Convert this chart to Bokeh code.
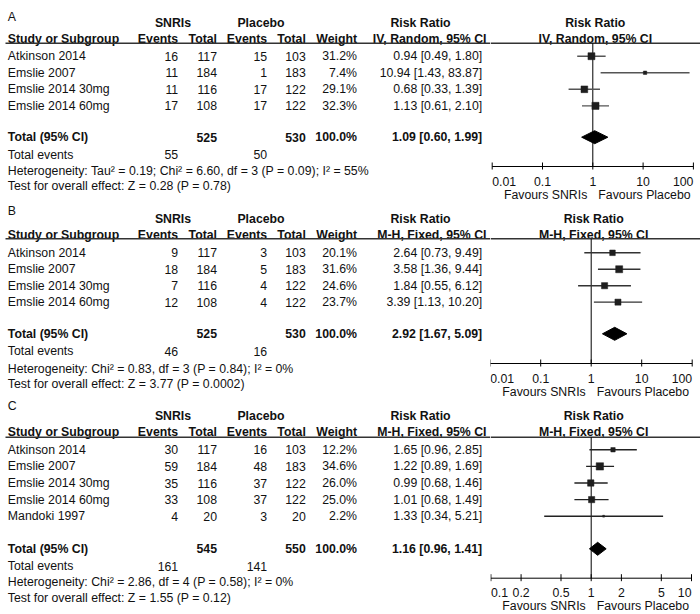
from bokeh.plotting import figure
from bokeh.layouts import row, column
from bokeh.models import Range1d
from bokeh.core.properties import value
from bokeh.embed import file_html
from bokeh.resources import INLINE

FONT = "Liberation Sans"
FSIZE = "12.3px"

# ---------------- data ----------------
studies_ab = ["Atkinson 2014", "Emslie 2007", "Emslie 2014 30mg", "Emslie 2014 60mg"]
studies_c = ["Atkinson 2014", "Emslie 2007", "Emslie 2014 30mg", "Emslie 2014 60mg", "Mandoki 1997"]

a_snri_events = [16, 11, 11, 17]
a_snri_total = [117, 184, 116, 108]
a_plac_events = [15, 1, 17, 17]
a_plac_total = [103, 183, 122, 122]
a_weight = [31.2, 7.4, 29.1, 32.3]
a_rr = [0.94, 10.94, 0.68, 1.13]
a_lo = [0.49, 1.43, 0.33, 0.61]
a_hi = [1.80, 83.87, 1.39, 2.10]
a_totals = [525, 530]
a_total_events = [55, 50]
a_pooled = [1.09, 0.60, 1.99]
a_het = "Heterogeneity: Tau\u00b2 = 0.19; Chi\u00b2 = 6.60, df = 3 (P = 0.09); I\u00b2 = 55%"
a_test = "Test for overall effect: Z = 0.28 (P = 0.78)"
a_method = "IV, Random, 95% CI"
a_ticks = [0.01, 0.1, 1, 10, 100]
a_tick_labels = ["0.01", "0.1", "1", "10", "100"]

b_snri_events = [9, 18, 7, 12]
b_snri_total = [117, 184, 116, 108]
b_plac_events = [3, 5, 4, 4]
b_plac_total = [103, 183, 122, 122]
b_weight = [20.1, 31.6, 24.6, 23.7]
b_rr = [2.64, 3.58, 1.84, 3.39]
b_lo = [0.73, 1.36, 0.55, 1.13]
b_hi = [9.49, 9.44, 6.12, 10.20]
b_totals = [525, 530]
b_total_events = [46, 16]
b_pooled = [2.92, 1.67, 5.09]
b_het = "Heterogeneity: Chi\u00b2 = 0.83, df = 3 (P = 0.84); I\u00b2 = 0%"
b_test = "Test for overall effect: Z = 3.77 (P = 0.0002)"
b_method = "M-H, Fixed, 95% CI"
b_ticks = [0.01, 0.1, 1, 10, 100]
b_tick_labels = ["0.01", "0.1", "1", "10", "100"]

c_snri_events = [30, 59, 35, 33, 4]
c_snri_total = [117, 184, 116, 108, 20]
c_plac_events = [16, 48, 37, 37, 3]
c_plac_total = [103, 183, 122, 122, 20]
c_weight = [12.2, 34.6, 26.0, 25.0, 2.2]
c_rr = [1.65, 1.22, 0.99, 1.01, 1.33]
c_lo = [0.96, 0.89, 0.68, 0.68, 0.34]
c_hi = [2.85, 1.69, 1.46, 1.49, 5.21]
c_totals = [545, 550]
c_total_events = [161, 141]
c_pooled = [1.16, 0.96, 1.41]
c_het = "Heterogeneity: Chi\u00b2 = 2.86, df = 4 (P = 0.58); I\u00b2 = 0%"
c_test = "Test for overall effect: Z = 1.55 (P = 0.12)"
c_method = "M-H, Fixed, 95% CI"
c_ticks = [0.1, 0.2, 0.5, 1, 2, 5, 10]
c_tick_labels = ["0.1", "0.2", "0.5", "1", "2", "5", "10"]

favours_left = "Favours SNRIs"
favours_right = "Favours Placebo"

# ---------------- layout ----------------
TABLE_W = 490
FOREST_W = 210
X_LEFT = 7.3
COL_EV1, COL_TOT1, COL_EV2, COL_TOT2, COL_WT, COL_RR = 177.7, 216.5, 266.7, 305.3, 356.5, 481.7


def txt(p, xs, ys, texts, align="left", bold=False, color="#111111", x_offset=0):
    p.text(x=xs, y=ys, text=texts, text_font=value(FONT), text_font_size=FSIZE,
           text_align=align, text_baseline="middle", text_color=color, x_offset=x_offset,
           text_font_style="bold" if bold else "normal")


def bare(p):
    p.grid.visible = False
    p.outline_line_color = None
    p.background_fill_color = "white"
    p.border_fill_color = "white"
    if "frame_align" in p.properties():
        p.frame_align = False


def panel(letter, top, h, lay, studies, se, st, pe, pt, wt, rr, lo, hi, totals, tev,
          pooled, het, test, method, ticks, tick_labels, center, decade, ci_color):
    L = {k: v - top for k, v in lay.items() if k != "step"}
    step = lay["step"]
    rows_y = [L["row0"] + step * i for i in range(len(studies))]
    # ---------- table ----------
    t = figure(width=TABLE_W, height=h, x_range=Range1d(0, TABLE_W),
               y_range=Range1d(h, 0), output_backend="svg", toolbar_location=None,
               min_border=0, x_axis_location=None, y_axis_location=None)
    bare(t)

    txt(t, [X_LEFT], [L["letter"]], [letter])
    txt(t, [172.5, 260.5, 420], [L["h1"]] * 3, ["SNRIs", "Placebo", "Risk Ratio"], align="center", bold=True)
    txt(t, [X_LEFT], [L["h2"]], ["Study or Subgroup"], bold=True)
    txt(t, [COL_EV1, COL_TOT1, COL_EV2, COL_TOT2, COL_WT, 486],
        [L["h2"]] * 6, ["Events", "Total", "Events", "Total", "Weight", method], align="right", bold=True)
    t.segment(x0=[5], x1=[TABLE_W], y0=[L["line"]], y1=[L["line"]],
              line_color="#333333", line_width=1.6)

    txt(t, [X_LEFT] * len(studies), rows_y, studies)
    n = len(studies)
    txt(t, [COL_EV1] * n, rows_y, [str(v) for v in se], align="right")
    txt(t, [COL_TOT1] * n, rows_y, [str(v) for v in st], align="right")
    txt(t, [COL_EV2] * n, rows_y, [str(v) for v in pe], align="right")
    txt(t, [COL_TOT2] * n, rows_y, [str(v) for v in pt], align="right")
    txt(t, [COL_WT] * n, rows_y, [f"{w:.1f}%" for w in wt], align="right")
    txt(t, [COL_RR] * n, rows_y, [f"{r:.2f} [{l:.2f}, {u:.2f}]" for r, l, u in zip(rr, lo, hi)], align="right")

    ty = L["total"]
    txt(t, [X_LEFT], [ty], ["Total (95% CI)"], bold=True)
    txt(t, [COL_TOT1, COL_TOT2, COL_WT, COL_RR], [ty] * 4,
        [str(totals[0]), str(totals[1]), "100.0%",
         f"{pooled[0]:.2f} [{pooled[1]:.2f}, {pooled[2]:.2f}]"], align="right", bold=True)
    txt(t, [X_LEFT], [L["tev"]], ["Total events"])
    txt(t, [COL_EV1, COL_EV2], [L["tev"]] * 2, [str(tev[0]), str(tev[1])], align="right")
    txt(t, [X_LEFT], [L["het"]], [het])
    txt(t, [X_LEFT], [L["test"]], [test])

    # ---------- forest ----------
    ax_y = L["axis"]
    xs = 10 ** ((TABLE_W - center) / decade)
    xe = 10 ** ((TABLE_W + FOREST_W - center) / decade)
    f = figure(width=FOREST_W, height=h, x_axis_type="log", x_range=Range1d(xs, xe),
               y_range=Range1d(h, 0), output_backend="svg", toolbar_location=None,
               min_border=0, x_axis_location=None, y_axis_location=None)
    bare(f)

    txt(f, [1, 1], [L["h1"], L["h2"]], ["Risk Ratio", method], align="center", bold=True, x_offset=2.5)
    f.segment(x0=[xs], x1=[xe], y0=[L["line"]], y1=[L["line"]], line_color="#333333", line_width=1.6)
    f.segment(x0=[1], x1=[1], y0=[L["line"]], y1=[ax_y], line_color="black", line_width=1)

    f.segment(x0=lo, x1=hi, y0=rows_y, y1=rows_y, line_color=ci_color, line_width=1.4)
    f.scatter(x=rr, y=rows_y, marker="square", size=[1.25 * w ** 0.5 for w in wt],
              fill_color="#1e1e1e", line_color="#1e1e1e", line_width=0.5)
    est, plo, phi = pooled
    f.patch(x=[plo, est, phi, est], y=[ty, ty - 6.5, ty, ty + 6.5], fill_color="black", line_color="black")

    # axis drawn from the tick values through the log scale
    f.segment(x0=[ticks[0]], x1=[ticks[-1]], y0=[ax_y], y1=[ax_y], line_color="black", line_width=1)
    f.segment(x0=ticks, x1=ticks, y0=[ax_y - 4] * len(ticks), y1=[ax_y + 3] * len(ticks),
              line_color="black", line_width=1)
    ly = ax_y + 14.5
    txt(f, [ticks[0]], [ly], [tick_labels[0]], align="left")
    txt(f, ticks[1:-1], [ly] * (len(ticks) - 2), tick_labels[1:-1], align="center")
    txt(f, [ticks[-1]], [ly], [tick_labels[-1]], align="right")
    fy = ax_y + 28
    txt(f, [1], [fy], [favours_left], align="right", x_offset=-5.5)
    txt(f, [1], [fy], [favours_right], align="left", x_offset=5.5)
    return row(t, f, spacing=0)


# vertical positions in page pixels
lay_a = dict(letter=16, h1=22, h2=38, line=42.7, row0=55.7, step=16.55, total=136.7, tev=154.3, het=170, test=185, axis=166)
lay_b = dict(letter=210, h1=218.3, h2=234, line=238.3, row0=252.3, step=16.45, total=333.3, tev=350.7, het=368.3, test=383.3, axis=363)
lay_c = dict(letter=405, h1=415.7, h2=431.7, line=436.7, row0=449.3, step=16.6, total=548.3, tev=565.7, het=581.7, test=597.3, axis=577.7)

pa = panel("A", 0, 201, lay_a, studies_ab, a_snri_events, a_snri_total, a_plac_events, a_plac_total,
           a_weight, a_rr, a_lo, a_hi, a_totals, a_total_events, a_pooled, a_het, a_test, a_method,
           a_ticks, a_tick_labels, 592.3, 50.3, "#555555")
pb = panel("B", 201, 196, lay_b, studies_ab, b_snri_events, b_snri_total, b_plac_events, b_plac_total,
           b_weight, b_rr, b_lo, b_hi, b_totals, b_total_events, b_pooled, b_het, b_test, b_method,
           b_ticks, b_tick_labels, 590.7, 50.5, "#333333")
pc = panel("C", 397, 217, lay_c, studies_c, c_snri_events, c_snri_total, c_plac_events, c_plac_total,
           c_weight, c_rr, c_lo, c_hi, c_totals, c_total_events, c_pooled, c_het, c_test, c_method,
           c_ticks, c_tick_labels, 590.7, 100.3, "#222222")

layout = column(pa, pb, pc, spacing=0)
open("out.html", "w").write(file_html(layout, INLINE))
